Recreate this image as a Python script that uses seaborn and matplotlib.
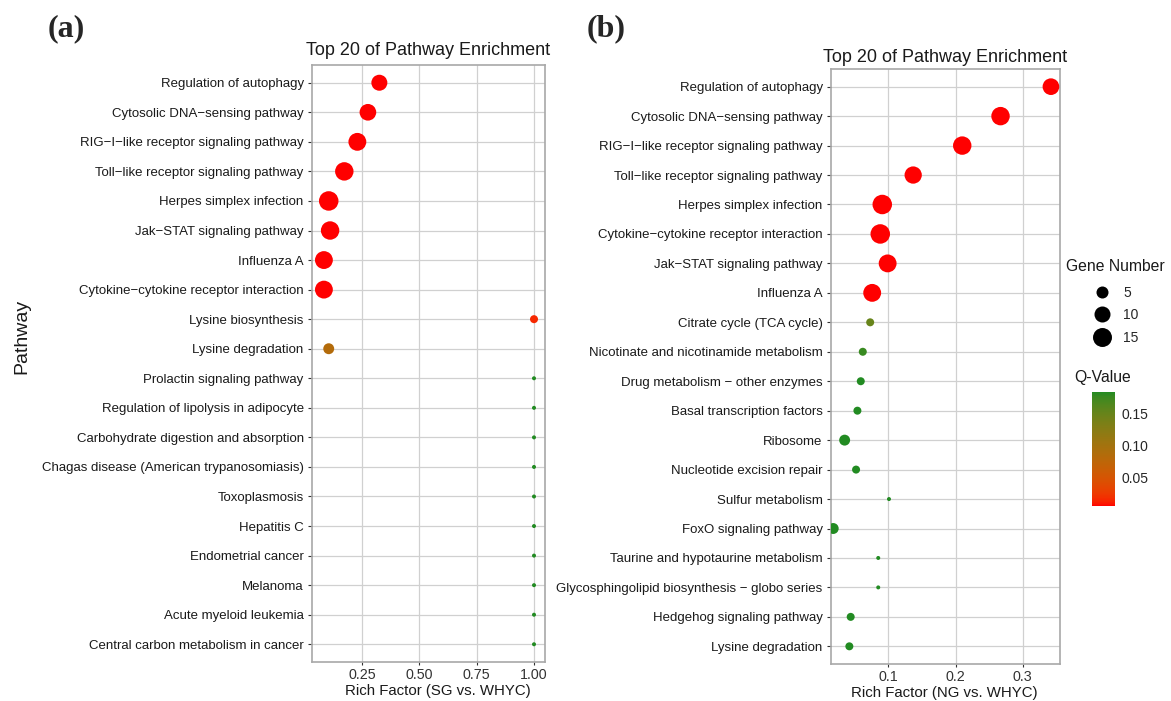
import numpy as np
import pandas as pd
import matplotlib
matplotlib.use("Agg")
import matplotlib.pyplot as plt
from matplotlib.colors import ListedColormap, Normalize
from matplotlib.cm import ScalarMappable
from matplotlib.lines import Line2D
import seaborn as sns

# ---------------- data ----------------
a_pathways = [
    "Regulation of autophagy", "Cytosolic DNA\u2212sensing pathway",
    "RIG\u2212I\u2212like receptor signaling pathway", "Toll\u2212like receptor signaling pathway",
    "Herpes simplex infection", "Jak\u2212STAT signaling pathway", "Influenza A",
    "Cytokine\u2212cytokine receptor interaction", "Lysine biosynthesis", "Lysine degradation",
    "Prolactin signaling pathway", "Regulation of lipolysis in adipocyte",
    "Carbohydrate digestion and absorption", "Chagas disease (American trypanosomiasis)",
    "Toxoplasmosis", "Hepatitis C", "Endometrial cancer", "Melanoma",
    "Acute myeloid leukemia", "Central carbon metabolism in cancer",
]
a_rich = [0.325, 0.275, 0.229, 0.172, 0.104, 0.110, 0.083, 0.083, 1.0, 0.104,
          1.0, 1.0, 1.0, 1.0, 1.0, 1.0, 1.0, 1.0, 1.0, 1.0]
a_genes = [10, 11, 13, 14, 16, 14, 13, 13, 2, 4, 1, 1, 1, 1, 1, 1, 1, 1, 1, 1]
a_qvalue = [0.006, 0.006, 0.006, 0.006, 0.006, 0.006, 0.006, 0.006, 0.016, 0.085,
            0.1835, 0.1835, 0.1835, 0.1835, 0.1835, 0.1835, 0.1835, 0.1835, 0.1835, 0.1835]

b_pathways = [
    "Regulation of autophagy", "Cytosolic DNA\u2212sensing pathway",
    "RIG\u2212I\u2212like receptor signaling pathway", "Toll\u2212like receptor signaling pathway",
    "Herpes simplex infection", "Cytokine\u2212cytokine receptor interaction",
    "Jak\u2212STAT signaling pathway", "Influenza A", "Citrate cycle (TCA cycle)",
    "Nicotinate and nicotinamide metabolism", "Drug metabolism \u2212 other enzymes",
    "Basal transcription factors", "Ribosome", "Nucleotide excision repair",
    "Sulfur metabolism", "FoxO signaling pathway", "Taurine and hypotaurine metabolism",
    "Glycosphingolipid biosynthesis \u2212 globo series", "Hedgehog signaling pathway",
    "Lysine degradation",
]
b_rich = [0.342, 0.267, 0.210, 0.137, 0.091, 0.088, 0.099, 0.076, 0.073, 0.062,
          0.059, 0.054, 0.035, 0.052, 0.101, 0.018, 0.085, 0.085, 0.044, 0.042]
b_genes = [11, 14, 14, 12, 16, 16, 13, 13, 2, 2, 2, 2, 4, 2, 1, 4, 1, 1, 2, 2]
b_qvalue = [0.006, 0.006, 0.006, 0.006, 0.006, 0.006, 0.006, 0.006, 0.150, 0.176,
            0.1835, 0.1835, 0.1835, 0.1835, 0.1835, 0.1835, 0.1835, 0.1835, 0.1835, 0.1835]

a_xticks = [0.25, 0.50, 0.75, 1.00]
a_xticklabels = ["0.25", "0.50", "0.75", "1.00"]
b_xticks = [0.1, 0.2, 0.3]
b_xticklabels = ["0.1", "0.2", "0.3"]
legend_genes = [5, 10, 15]
q_ticks = [0.05, 0.10, 0.15]
q_ticklabels = ["0.05", "0.10", "0.15"]
q_limits = (0.006, 0.1835)

# ---------------- colour scale (Lab interpolation red -> forestgreen) ----------------
_M = np.array([[0.4124, 0.3576, 0.1805], [0.2126, 0.7152, 0.0722], [0.0193, 0.1192, 0.9505]])
_W = np.array([0.95047, 1.0, 1.08883])
_d = 6 / 29


def _to_lab(rgb):
    c = np.asarray(rgb, float)
    lin = np.where(c <= 0.04045, c / 12.92, ((c + 0.055) / 1.055) ** 2.4)
    xyz = _M @ lin / _W
    f = np.where(xyz > _d ** 3, np.cbrt(xyz), xyz / (3 * _d * _d) + 4 / 29)
    return np.array([116 * f[1] - 16, 500 * (f[0] - f[1]), 200 * (f[1] - f[2])])


def _from_lab(lab):
    L, A, B = lab
    fy = (L + 16) / 116
    f = np.array([fy + A / 500, fy, fy - B / 200])
    xyz = np.where(f > _d, f ** 3, 3 * _d * _d * (f - 4 / 29)) * _W
    lin = np.clip(np.linalg.solve(_M, xyz), 0, 1)
    return np.where(lin <= 0.0031308, 12.92 * lin, 1.055 * lin ** (1 / 2.4) - 0.055)


lab_lo = _to_lab([1.0, 0.0, 0.0])
lab_hi = _to_lab([34 / 255, 139 / 255, 34 / 255])
cmap = ListedColormap([_from_lab(lab_lo + (lab_hi - lab_lo) * t) for t in np.linspace(0, 1, 256)])
norm = Normalize(*q_limits)


def gene_size(n):
    d_px = 4 + 15.5 * np.sqrt((n - 1) / 15)
    return (d_px * 0.72) ** 2


size_map = {n: gene_size(n) for n in sorted(set(a_genes) | set(b_genes) | set(legend_genes))}

# ---------------- figure ----------------
sns.set_style("white")
plt.rcParams["font.family"] = ["Liberation Sans", "DejaVu Sans"]

W, H = 1171, 701
fig = plt.figure(figsize=(W / 100, H / 100), dpi=100)


def fbox(l, t, r, b):
    return [l / W, 1 - b / H, (r - l) / W, (b - t) / H]


ax_a = fig.add_axes(fbox(312, 65, 545, 662))
ax_b = fig.add_axes(fbox(831, 69, 1060, 664))

panels = [
    (ax_a, a_pathways, a_rich, a_genes, a_qvalue, (0.031, 1.048), a_xticks, a_xticklabels,
     "Rich Factor (SG vs. WHYC)", (438 - 312) / (545 - 312), 7.2),
    (ax_b, b_pathways, b_rich, b_genes, b_qvalue, (0.0147, 0.3555), b_xticks, b_xticklabels,
     "Rich Factor (NG vs. WHYC)", (944 - 831) / (1060 - 831), 5.3),
]

for ax, paths, rich, genes, qv, xlim, xt, xtl, xlab, xlabx, tpad in panels:
    df = pd.DataFrame({"Pathway": paths, "Rich": rich, "Genes": genes, "Q": qv})
    sns.scatterplot(data=df, x="Rich", y="Pathway", size="Genes", sizes=size_map,
                    hue="Q", palette=cmap, hue_norm=norm, legend=False,
                    linewidth=0, ax=ax, zorder=3)
    ax.set_xlim(*xlim)
    ax.set_ylim(len(paths) - 1 + 0.6, -0.6)
    ax.set_xticks(xt)
    ax.set_xticklabels(xtl)
    ax.grid(True, color="#D0D0D0", linewidth=0.9)
    ax.set_axisbelow(True)
    for s in ax.spines.values():
        s.set_color("#A8A8A8")
        s.set_linewidth(1.2)
    ax.tick_params(axis="y", length=3, width=0.8, color="#333333", labelsize=9.55,
                   labelcolor="#1a1a1a", pad=3, left=True)
    ax.tick_params(axis="x", length=2.5, width=0.8, color="#333333", labelsize=10.3,
                   labelcolor="#333333", pad=2, bottom=True)
    ax.set_ylabel("")
    ax.set_xlabel(xlab, fontsize=10.8, color="#1a1a1a", labelpad=1, x=xlabx)
    ax.set_title("Top 20 of Pathway Enrichment", fontsize=13, color="#1a1a1a", pad=tpad)

# axis title & panel labels
fig.text(22 / W, 1 - 336 / H, "Pathway", rotation=90, fontsize=14, ha="center", va="center",
         color="#1a1a1a")
fig.text(66 / W, 1 - 29 / H, "(a)", family=["Liberation Serif"], weight="bold", fontsize=23,
         ha="center", va="center")
fig.text(606 / W, 1 - 29 / H, "(b)", family=["Liberation Serif"], weight="bold", fontsize=23,
         ha="center", va="center")

# size legend
fig.text(1066 / W, 1 - 266 / H, "Gene Number", fontsize=11.3, ha="left", va="center",
         color="#1a1a1a")
handles = [Line2D([], [], marker="o", linestyle="", color="black", markeredgewidth=0,
                  markersize=np.sqrt(size_map[n])) for n in legend_genes]
fig.legend(handles, [str(n) for n in legend_genes], loc="upper left",
           bbox_to_anchor=(1091 / W, 1 - 286 / H), frameon=False, fontsize=10,
           handlelength=1.6, handletextpad=0.7, labelspacing=0.6, borderpad=0,
           borderaxespad=0)

# colour bar
fig.text(1074 / W, 1 - 378 / H, "Q-Value", fontsize=11.3, ha="left", va="center", color="#1a1a1a")
cax = fig.add_axes(fbox(1092, 392, 1115, 506))
cb = fig.colorbar(ScalarMappable(norm=norm, cmap=cmap), cax=cax, ticks=q_ticks)
cb.outline.set_visible(False)
cb.ax.set_yticklabels(q_ticklabels)
cax.tick_params(axis="y", direction="in", length=3, width=0.8, color="white",
                left=True, right=True, labelleft=False, labelright=True,
                labelsize=10, pad=5)

fig.savefig("out.png", dpi=100)
